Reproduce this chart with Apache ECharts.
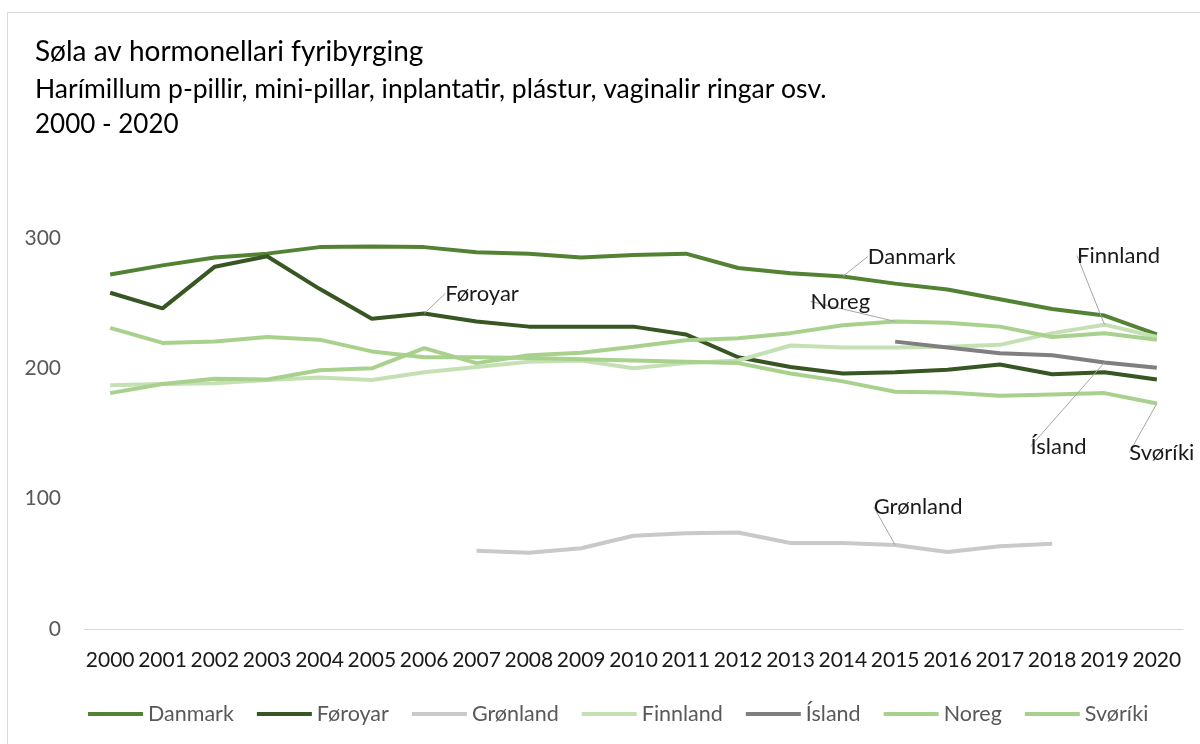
<!DOCTYPE html>
<html>
<head>
<meta charset="utf-8">
<title>Søla av hormonellari fyribyrging</title>
<script src="https://cdn.jsdelivr.net/npm/echarts@6/dist/echarts.min.js"></script>
<style>
  html, body { margin: 0; padding: 0; background: #fff; }
  #chart { width: 1200px; height: 744px; }
</style>
</head>
<body>
<div id="chart"></div>
<script>
// ár
var years = ['2000', '2001', '2002', '2003', '2004', '2005', '2006', '2007', '2008', '2009', '2010',
  '2011', '2012', '2013', '2014', '2015', '2016', '2017', '2018', '2019', '2020'];

// tal lisin av myndini
var danmark = [272, 279, 285, 288, 293, 293.5, 293, 289, 288, 285, 287, 288, 277, 273, 270.5, 265, 260.5, 253, 245.5, 240.5, 226];
var foroyar = [258, 246, 278, 286, 261, 238, 242, 236, 232, 232, 232, 226, 208.5, 201, 196, 197, 199, 203, 195.5, 197, 191.5];
var gronland = [null, null, null, null, null, null, null, 60, 58.5, 62, 71.5, 73.5, 74, 66, 66, 64.5, 59, 63.5, 65.5, null, null];
var finnland = [187, 188, 188.5, 191, 193, 191, 197, 201, 205, 206, 200, 204, 206, 217.5, 216, 216, 216.5, 218, 227, 233.5, 224];
var island = [null, null, null, null, null, null, null, null, null, null, null, null, null, null, null, 220.5, 216, 211.5, 210, 204.5, 200.5];
var noreg = [181, 188, 192, 191.5, 198.5, 200, 215.5, 204, 210, 212, 216.5, 221.5, 223, 227, 233, 236, 235, 232, 224, 227, 222];
var svoriki = [231, 219.5, 220.5, 224, 222, 213, 208.5, 208.5, 208, 207, 206, 205, 204, 196, 190, 182, 181.5, 179, 180, 181, 173];

var yTicks = [0, 100, 200, 300];

var myChart = echarts.init(document.getElementById('chart'));

// eitt navn sum label við ein punkt, við leiðilinju
function withLabel(values, idx, name, position, dx, dy, elbow) {
  return values.map(function (v, i) {
    if (i !== idx) return v;
    return {
      value: v,
      label: {
        show: true,
        position: position,
        formatter: name,
        fontFamily: 'Lato',
        fontSize: 22,
        color: '#1a1a1a'
      },
      labelLine: {
        show: true,
        length2: elbow,
        lineStyle: { color: '#a6a6a6', width: 1 }
      },
      labelLayoutOffset: [dx, dy]
    };
  });
}

function makeSeries(name, color, data) {
  return {
    name: name,
    type: 'line',
    data: data,
    connectNulls: false,
    showSymbol: true,
    symbol: 'circle',
    symbolSize: 0,
    itemStyle: { color: color },
    lineStyle: { color: color, width: 4 },
    label: { show: false },
    labelLayout: function (params) {
      var item = data[params.dataIndex];
      if (item && item.labelLayoutOffset) {
        return { dx: item.labelLayoutOffset[0], dy: item.labelLayoutOffset[1] };
      }
      return {};
    },
    emphasis: { disabled: true },
    animation: false
  };
}

var option = {
  backgroundColor: '#fff',
  animation: false,
  title: [
    {
      text: 'Søla av hormonellari fyribyrging',
      left: 30, top: 33,
      textStyle: { fontFamily: 'Lato', fontSize: 28, fontWeight: 'normal', color: '#000' }
    },
    {
      text: 'Harímillum p-pillir, mini-pillar, inplantatir, plástur, vaginalir ringar osv.',
      left: 30, top: 71,
      textStyle: { fontFamily: 'Lato', fontSize: 26.5, fontWeight: 'normal', color: '#000' }
    },
    {
      text: '2000 - 2020',
      left: 30, top: 107,
      textStyle: { fontFamily: 'Lato', fontSize: 26, fontWeight: 'normal', color: '#000' }
    }
  ],
  graphic: [
    {
      type: 'rect',
      shape: { x: 7.5, y: 12.5, width: 1300, height: 800 },
      style: { fill: 'none', stroke: '#d9d9d9', lineWidth: 1 },
      silent: true
    }
  ],
  grid: { left: 84, right: 17, top: 238, bottom: 115 },
  legend: {
    left: 83,
    top: 698,
    icon: 'rect',
    itemWidth: 55,
    itemHeight: 4,
    itemGap: 23,
    textStyle: { fontFamily: 'Lato', fontSize: 21.5, color: '#595959' },
    data: ['Danmark', 'Føroyar', 'Grønland', 'Finnland', 'Ísland', 'Noreg', 'Svøríki']
  },
  xAxis: {
    type: 'category',
    data: years,
    boundaryGap: true,
    axisLine: { lineStyle: { color: '#d9d9d9', width: 1 } },
    axisTick: { show: false },
    axisLabel: { interval: 0, margin: 21, fontFamily: 'Lato', fontSize: 21, color: '#1a1a1a' }
  },
  yAxis: {
    type: 'value',
    min: yTicks[0],
    max: yTicks[yTicks.length - 1],
    interval: 100,
    axisLine: { show: false },
    axisTick: { show: false },
    splitLine: { show: false },
    axisLabel: { margin: 23, fontFamily: 'Lato', fontSize: 21, color: '#595959' }
  },
  series: [
    makeSeries('Danmark', '#548235', withLabel(danmark, 14, 'Danmark', 'right', 20, -20, 10)),
    makeSeries('Føroyar', '#375623', withLabel(foroyar, 6, 'Føroyar', 'right', 16, -20, 10)),
    makeSeries('Grønland', '#c9c9c9', withLabel(gronland, 15, 'Grønland', 'top', 23, -22, 0)),
    makeSeries('Finnland', '#c5e0b4', withLabel(finnland, 19, 'Finnland', 'top', 14, -53, 0)),
    makeSeries('Ísland', '#7f7f7f', withLabel(island, 19, 'Ísland', 'bottom', -46, 68, 0)),
    makeSeries('Noreg', '#a9d18e', withLabel(noreg, 15, 'Noreg', 'left', -20, -20, 10)),
    makeSeries('Svøríki', '#a9d18e', withLabel(svoriki, 20, 'Svøríki', 'bottom', 5, 33, 0))
  ]
};

myChart.setOption(option);

window.addEventListener('resize', function () {
  myChart.resize();
});
</script>
</body>
</html>
